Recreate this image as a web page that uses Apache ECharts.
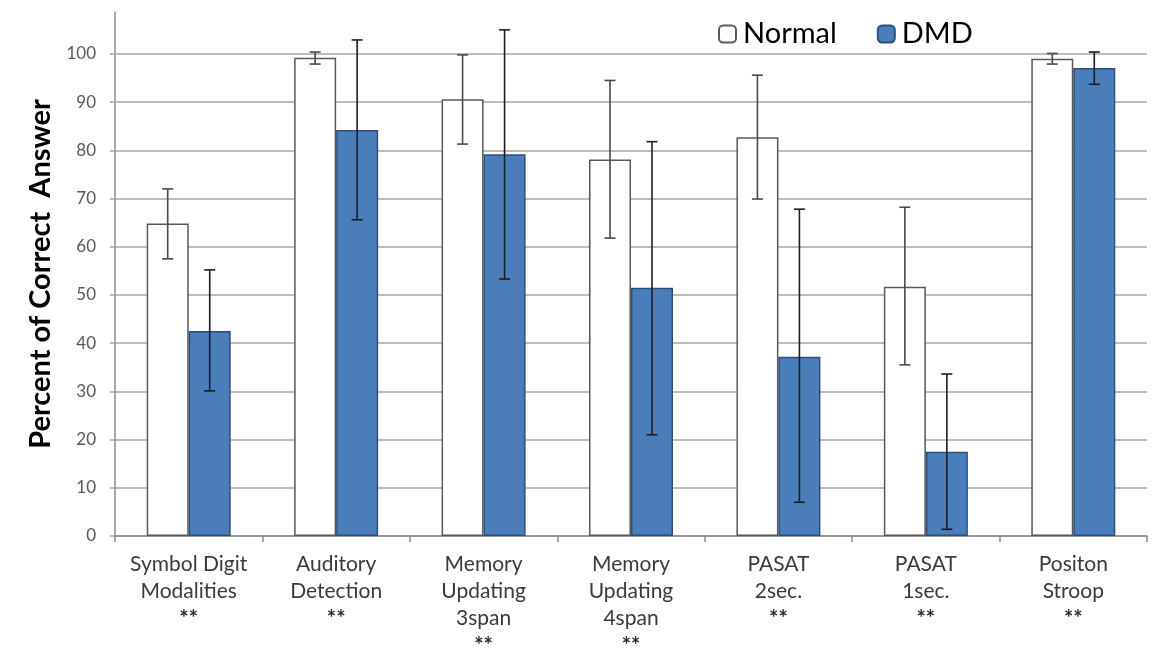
<!DOCTYPE html>
<html>
<head>
<meta charset="utf-8">
<script src="https://cdn.jsdelivr.net/npm/echarts@6/dist/echarts.min.js"></script>
<style>html,body{margin:0;padding:0;background:#fff}#c{width:1162px;height:653px}</style>
</head>
<body>
<div id="c"></div>
<script>
const categories = ["Symbol Digit\nModalities\n**", "Auditory\nDetection\n**", "Memory\nUpdating\n3span\n**", "Memory\nUpdating\n4span\n**", "PASAT\n2sec.\n**", "PASAT\n1sec.\n**", "Positon\nStroop\n**"];
const seriesNames = ["Normal", "DMD"];
const normalMean = [64.8, 99.2, 90.6, 78.1, 82.7, 51.7, 99.0];
const normalHigh = [72.0, 100.4, 99.8, 94.5, 95.6, 68.2, 100.1];
const normalLow  = [57.5, 97.9, 81.3, 61.8, 69.9, 35.5, 97.9];
const dmdMean = [42.5, 84.2, 79.2, 51.5, 37.2, 17.5, 97.1];
const dmdHigh = [55.2, 102.9, 105.0, 81.8, 67.8, 33.6, 100.4];
const dmdLow  = [30.1, 65.6, 53.3, 21.0, 7.0, 1.4, 93.7];
const yTicks = [0, 10, 20, 30, 40, 50, 60, 70, 80, 90, 100];
const yMax = 108.7;

const BAR_W = 42;
const FONT = 'Lato, "Open Sans", sans-serif';
const chart = echarts.init(document.getElementById('c'), null, {renderer: 'canvas'});

function errSeries(name, high, low, sign, color) {
  return {
    type: 'custom',
    name: name + ' err',
    z: 10,
    silent: true,
    data: high.map((h, i) => [i, low[i], h]),
    renderItem: function (params, api) {
      const i = api.value(0);
      const top = api.coord([i, api.value(2)]);
      const bot = api.coord([i, api.value(1)]);
      const x = top[0] + sign * BAR_W / 2;
      const cap = 5.5;
      const style = {stroke: color, lineWidth: 1.6};
      return {
        type: 'group',
        children: [
          {type: 'line', shape: {x1: x, y1: top[1], x2: x, y2: bot[1]}, style: style},
          {type: 'line', shape: {x1: x - cap, y1: top[1], x2: x + cap, y2: top[1]}, style: style},
          {type: 'line', shape: {x1: x - cap, y1: bot[1], x2: x + cap, y2: bot[1]}, style: style}
        ]
      };
    }
  };
}

const gridColors = yTicks.map(() => '#a6a6a6').concat(['rgba(0,0,0,0)']);

chart.setOption({
  animation: false,
  backgroundColor: '#ffffff',
  textStyle: {fontFamily: FONT},
  grid: {left: 115, right: 15, top: 12, bottom: 117, containLabel: false, outerBoundsMode: 'none'},
  legend: {
    data: seriesNames,
    left: 713, top: 14,
    itemWidth: 17, itemHeight: 17, itemGap: 40,
    textStyle: {fontSize: 29, lineHeight: 30, color: '#000', fontFamily: FONT, padding: [0, 0, 0, 2]}
  },
  xAxis: {
    type: 'category',
    data: categories,
    axisLine: {lineStyle: {color: '#8c8c8c', width: 1.5}},
    axisTick: {show: true, length: 6, lineStyle: {color: '#8c8c8c', width: 1.5}},
    axisLabel: {
      fontSize: 21, color: '#3a3a3a', lineHeight: 27, margin: 15, interval: 0, fontFamily: FONT,
      formatter: function (v) {
        return v.split('\n').map(s => s === '**' ? '{s|' + s + '}' : s).join('\n');
      },
      rich: {s: {fontSize: 22, fontWeight: 'bold', color: '#2a2a2a', lineHeight: 27, fontFamily: FONT}}
    },
    splitLine: {show: false}
  },
  yAxis: {
    type: 'value',
    min: 0, max: yMax, interval: 10,
    name: 'Percent of Correct  Answer',
    nameLocation: 'middle',
    nameGap: 60,
    nameTextStyle: {fontSize: 29, fontWeight: 'bold', color: '#000', fontFamily: FONT},
    axisLine: {show: true, lineStyle: {color: '#8c8c8c', width: 1.5}},
    axisTick: {show: true, length: 5, customValues: yTicks, lineStyle: {color: '#a6a6a6', width: 1.5}},
    axisLabel: {fontSize: 17, color: '#595959', margin: 19, customValues: yTicks, fontFamily: FONT},
    splitLine: {show: true, lineStyle: {color: gridColors, width: 1.5}}
  },
  series: [
    {
      name: seriesNames[0], type: 'bar', data: normalMean,
      barWidth: BAR_W, barGap: '0%',
      itemStyle: {color: '#ffffff', borderColor: '#595959', borderWidth: 1.5}
    },
    {
      name: seriesNames[1], type: 'bar', data: dmdMean,
      barWidth: BAR_W, barGap: '0%',
      itemStyle: {color: '#4a7ebb', borderColor: '#2c4f7c', borderWidth: 1.5}
    },
    errSeries('Normal', normalHigh, normalLow, -1, '#4a4a4a'),
    errSeries('DMD', dmdHigh, dmdLow, 1, '#1e1e1e')
  ]
});
</script>
</body>
</html>
